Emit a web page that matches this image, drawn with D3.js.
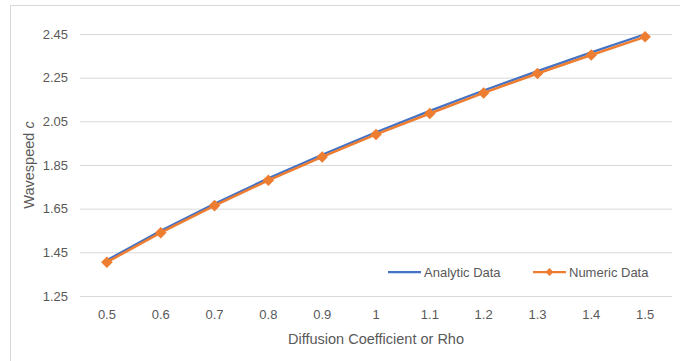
<!DOCTYPE html>
<html>
<head>
<meta charset="utf-8">
<script src="https://cdn.jsdelivr.net/npm/d3@7"></script>
<style>
  body { margin: 0; background: #fff; }
  text { font-family: "Liberation Sans", Arial, sans-serif; fill: #595959; }
</style>
</head>
<body>
<svg id="chart" width="680" height="361"></svg>
<script>
const categories = ["0.5", "0.6", "0.7", "0.8", "0.9", "1", "1.1", "1.2", "1.3", "1.4", "1.5"];
const analyticData = [1.414, 1.549, 1.673, 1.789, 1.897, 2.0, 2.098, 2.191, 2.280, 2.366, 2.449];
const numericData = [1.405, 1.540, 1.664, 1.780, 1.887, 1.990, 2.086, 2.180, 2.269, 2.354, 2.437];
const yTicks = [1.25, 1.45, 1.65, 1.85, 2.05, 2.25, 2.45];

const svg = d3.select("#chart");
const plot = {left: 80, right: 672, top: 34, bottom: 296};

// chart area border (only left and top edges show in the frame)
svg.append("rect")
	.attr("x", 10.5).attr("y", 5.5)
	.attr("width", 700).attr("height", 400)
	.style("fill", "none")
	.style("stroke", "#d9d9d9")
	.style("stroke-width", 1);

const x = d3.scaleBand()
	.domain(categories)
	.range([plot.left, plot.right]);

const y = d3.scaleLinear()
	.domain([1.25, 2.45])
	.range([plot.bottom, plot.top]);

// gridlines + y labels
const yAxis = d3.axisLeft(y)
	.tickValues(yTicks)
	.tickFormat(d3.format(".2f"))
	.tickSize(-(plot.right - plot.left))
	.tickPadding(12);

const gy = svg.append("g")
	.attr("transform", "translate(" + plot.left + ",0)")
	.call(yAxis);
gy.select(".domain").remove();
gy.selectAll("line").style("stroke", "#d9d9d9").style("stroke-width", 1);
gy.selectAll("text").style("font-size", "13px").style("fill", "#595959")
	.style("font-family", "Liberation Sans, Arial, sans-serif");

// x labels
const xAxis = d3.axisBottom(x).tickSize(0).tickPadding(14);
const gx = svg.append("g")
	.attr("transform", "translate(0," + plot.bottom + ")")
	.call(xAxis);
gx.select(".domain").remove();
gx.selectAll("text").style("font-size", "13px").style("fill", "#595959")
	.style("font-family", "Liberation Sans, Arial, sans-serif");

// axis titles
svg.append("text")
	.attr("x", (plot.left + plot.right) / 2)
	.attr("y", 344)
	.attr("text-anchor", "middle")
	.style("font-size", "14.5px")
	.text("Diffusion Coefficient or Rho");

const yTitle = svg.append("text")
	.attr("transform", "translate(34,165) rotate(-90)")
	.attr("text-anchor", "middle")
	.style("font-size", "14.5px");
yTitle.append("tspan").text("Wavespeed ");
yTitle.append("tspan").style("font-style", "italic").text("c");

const line = d3.line()
	.x((d, i) => x(categories[i]) + x.bandwidth() / 2)
	.y(d => y(d));

svg.append("path")
	.datum(analyticData)
	.attr("d", line)
	.style("fill", "none")
	.style("stroke", "#4472c4")
	.style("stroke-width", 2.25);

svg.append("path")
	.datum(numericData)
	.attr("d", line)
	.style("fill", "none")
	.style("stroke", "#ed7d31")
	.style("stroke-width", 2.5);

const diamond = d3.symbol().type(d3.symbolDiamond2).size(85);
svg.selectAll(".numMarker")
	.data(numericData)
	.enter()
	.append("path")
	.attr("class", "numMarker")
	.attr("d", diamond)
	.attr("transform", (d, i) => "translate(" + (x(categories[i]) + x.bandwidth() / 2) + "," + y(d) + ")")
	.style("fill", "#ed7d31");

// legend
const legend = svg.append("g").attr("class", "legend");
const legendItems = [
	{name: "Analytic Data", color: "#4472c4", marker: false, x: 388},
	{name: "Numeric Data", color: "#ed7d31", marker: true, x: 533}
];
legendItems.forEach(item => {
	legend.append("line")
		.attr("x1", item.x).attr("x2", item.x + 33)
		.attr("y1", 272).attr("y2", 272)
		.style("stroke", item.color)
		.style("stroke-width", 2.25);
	if (item.marker) {
		legend.append("path")
			.attr("d", d3.symbol().type(d3.symbolDiamond2).size(40))
			.attr("transform", "translate(" + (item.x + 16.5) + ",272)")
			.style("fill", item.color);
	}
	legend.append("text")
		.attr("x", item.x + 36)
		.attr("y", 276.5)
		.style("font-size", "13px")
		.text(item.name);
});
</script>
</body>
</html>
